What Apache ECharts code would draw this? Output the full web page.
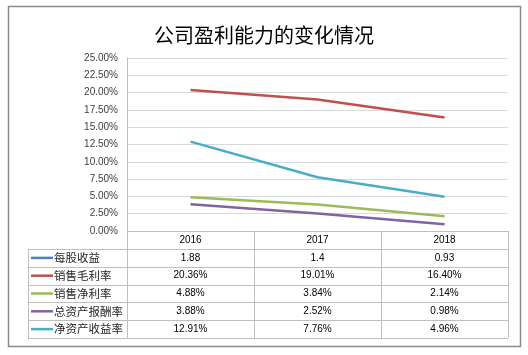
<!DOCTYPE html>
<html><head><meta charset="utf-8">
<script src="https://cdn.jsdelivr.net/npm/echarts@6/dist/echarts.min.js"></script>
<style>html,body{margin:0;padding:0;background:#fff}#c{width:528px;height:355px}</style>
</head><body><div id="c"></div>
<script>
const chartTitle = '公司盈利能力的变化情况';
const years = ['2016', '2017', '2018'];
const seriesNames = ['每股收益', '销售毛利率', '销售净利率', '总资产报酬率', '净资产收益率'];
const eps = [1.88, 1.4, 0.93];
const grossMargin = [0.2036, 0.1901, 0.1640];
const netMargin = [0.0488, 0.0384, 0.0214];
const roa = [0.0388, 0.0252, 0.0098];
const roe = [0.1291, 0.0776, 0.0496];
const yMin = 0, yMax = 0.25, yStep = 0.025;

const seriesData = [eps, grossMargin, netMargin, roa, roe];
const colors = ['#4F81BD', '#C0504D', '#9BBB59', '#8064A2', '#4BACC6'];
const fmtCell = (si, v) => si === 0 ? String(v) : (v * 100).toFixed(2) + '%';

const chart = echarts.init(document.getElementById('c'), null, { renderer: 'canvas' });
const gridLeft = 127, gridRight = 20, gridTop = 58, gridBottom = 124;
chart.setOption({
  animation: false,
  backgroundColor: '#fff',
  title: {
    text: chartTitle, left: 'center', top: 20,
    textStyle: { fontFamily: 'Noto Sans CJK SC', fontSize: 20, fontWeight: 'normal', color: '#000' }
  },
  grid: { left: gridLeft, right: gridRight, top: gridTop, bottom: gridBottom, containLabel: false },
  xAxis: {
    type: 'category', data: years, boundaryGap: true,
    axisLine: { show: false }, axisTick: { show: false }, splitLine: { show: false },
    axisLabel: { margin: 9, verticalAlign: 'middle', fontFamily: 'Liberation Sans', fontSize: 10, color: '#000' }
  },
  yAxis: {
    type: 'value', min: yMin, max: yMax, interval: yStep,
    axisLine: { show: true, lineStyle: { color: '#bfbfbf', width: 1 } },
    axisTick: { show: false },
    splitLine: { lineStyle: { color: '#d9d9d9', width: 1 } },
    axisLabel: {
      margin: 9, fontFamily: 'Liberation Sans', fontSize: 10, color: '#404040',
      formatter: v => (v * 100).toFixed(2) + '%'
    }
  },
  series: seriesNames.map((n, i) => ({
    name: n, type: 'line', data: seriesData[i], showSymbol: false, symbol: 'none',
    clip: true, lineStyle: { color: colors[i], width: 2.5 }, itemStyle: { color: colors[i] }
  }))
});

// Build the data table below the plot from the axis scale
const centers = years.map(y => chart.convertToPixel({ xAxisIndex: 0 }, y));
const band = centers[1] - centers[0];
const colBounds = [centers[0] - band / 2].concat(centers.map(c => c + band / 2));
const y0 = chart.convertToPixel({ yAxisIndex: 0 }, 0);
const headerH = 18, rowH = 17.8, tableLeft = 28;
const rowTops = seriesNames.map((_, i) => y0 + headerH + i * rowH);
const tableBottom = y0 + headerH + seriesNames.length * rowH;
const px = v => Math.round(v) + 0.5;
const lineStyle = { stroke: '#bfbfbf', lineWidth: 1 };
const g = [];
// horizontal lines
g.push({ type: 'line', silent: true, shape: { x1: colBounds[0], y1: px(y0), x2: colBounds[3], y2: px(y0) }, style: lineStyle });
rowTops.concat([tableBottom]).forEach(y => {
  g.push({ type: 'line', silent: true, shape: { x1: tableLeft, y1: px(y), x2: colBounds[3], y2: px(y) }, style: lineStyle });
});
// vertical lines
g.push({ type: 'line', silent: true, shape: { x1: px(tableLeft), y1: rowTops[0], x2: px(tableLeft), y2: tableBottom }, style: lineStyle });
colBounds.forEach(x => {
  g.push({ type: 'line', silent: true, shape: { x1: px(x), y1: y0, x2: px(x), y2: tableBottom }, style: lineStyle });
});
// row labels with legend keys and cells
seriesNames.forEach((n, i) => {
  const cy = rowTops[i] + rowH / 2;
  g.push({ type: 'line', silent: true, shape: { x1: tableLeft + 3, y1: cy, x2: tableLeft + 25, y2: cy }, style: { stroke: colors[i], lineWidth: 2.5 } });
  g.push({ type: 'text', silent: true, x: tableLeft + 26, y: cy,
    style: { text: n, fill: '#262626', font: '11.5px "Noto Sans CJK SC"', textVerticalAlign: 'middle', verticalAlign: 'middle' } });
  seriesData[i].forEach((v, j) => {
    g.push({ type: 'text', silent: true, x: centers[j], y: cy,
      style: { text: fmtCell(i, v), fill: '#000', font: '10px "Liberation Sans"', align: 'center', textAlign: 'center', verticalAlign: 'middle', textVerticalAlign: 'middle' } });
  });
});
// outer chart border
g.push({ type: 'rect', silent: true, shape: { x: 8.5, y: 6.5, width: 512, height: 340 }, style: { fill: 'none', stroke: '#8a8a8a', lineWidth: 1.5 } });
chart.setOption({ graphic: g });
</script></body></html>
